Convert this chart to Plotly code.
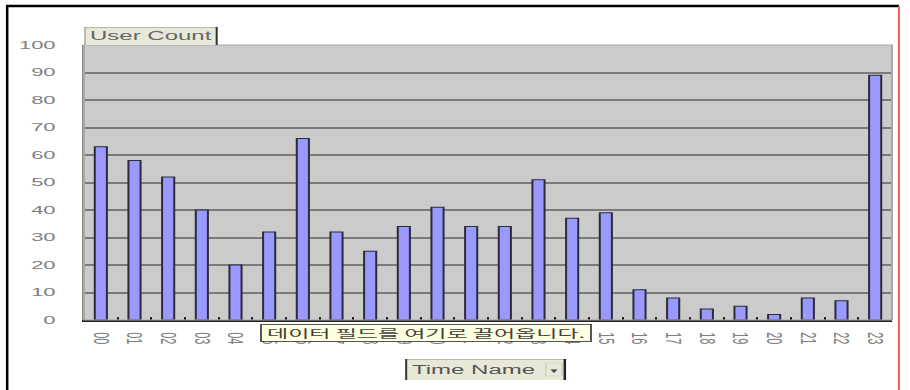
import plotly.graph_objects as go

# Hourly user counts (pivot chart: "User Count" by "Time Name")
hours = ["00", "01", "02", "03", "04", "05", "06", "07", "08", "09", "10", "11",
         "12", "13", "14", "15", "16", "17", "18", "19", "20", "21", "22", "23"]
user_count = [63, 58, 52, 40, 20, 32, 66, 32, 25, 34, 41, 34,
              34, 51, 37, 39, 11, 8, 4, 5, 2, 8, 7, 89]
y_ticks = [0, 10, 20, 30, 40, 50, 60, 70, 80, 90, 100]

# The chart is laid out at half width and shown stretched 2x horizontally,
# like a small Excel pivot chart that has been widened.
STRETCH = 2
W, H = 910 / STRETCH, 390
L, R, T, B = 83, 893, 45, 320          # plot area, in displayed pixels


def X(px):
    return (px - L) / (R - L)


def Y(py):
    return (B - py) / (B - T)


FONT = "Arial, Liberation Sans, sans-serif"

fig = go.Figure(go.Bar(
    x=hours, y=user_count,
    marker=dict(color="#9999FF", line=dict(color="#2b2b3a", width=1)),
    width=0.36,
))

shapes = [
    # plot-area border
    dict(type="rect", xref="paper", yref="paper", x0=0, x1=1, y0=0, y1=1,
         line=dict(color="#a8a8a8", width=1), layer="above"),
    # outer frame: black top/left, red right edge
    dict(type="line", xref="paper", yref="paper", x0=X(5), x1=X(900), y0=Y(6), y1=Y(6),
         line=dict(color="#000000", width=2.5)),
    dict(type="line", xref="paper", yref="paper", x0=X(6), x1=X(6), y0=Y(5), y1=Y(392),
         line=dict(color="#000000", width=1.25)),
    dict(type="line", xref="paper", yref="paper", x0=X(900), x1=X(900), y0=Y(6), y1=Y(392),
         line=dict(color="#ff5a5a", width=1)),
    # "User Count" field button
    dict(type="rect", xref="paper", yref="paper", x0=X(83), x1=X(217), y0=Y(45), y1=Y(27),
         fillcolor="#e8e8d8", line=dict(width=0)),
    dict(type="line", xref="paper", yref="paper", x0=X(83), x1=X(217), y0=Y(27.5), y1=Y(27.5),
         line=dict(color="#b8b8a8", width=1)),
    dict(type="line", xref="paper", yref="paper", x0=X(84), x1=X(84), y0=Y(27), y1=Y(45),
         line=dict(color="#9a9a90", width=0.6)),
    dict(type="line", xref="paper", yref="paper", x0=X(216), x1=X(216), y0=Y(27), y1=Y(45),
         line=dict(color="#333333", width=1)),
    # "Time Name" field button
    dict(type="rect", xref="paper", yref="paper", x0=X(405), x1=X(566), y0=Y(380), y1=Y(359),
         fillcolor="#e8e8d8", line=dict(width=0)),
    dict(type="line", xref="paper", yref="paper", x0=X(405), x1=X(566), y0=Y(359.5), y1=Y(359.5),
         line=dict(color="#b8b8a8", width=1)),
    dict(type="line", xref="paper", yref="paper", x0=X(406), x1=X(406), y0=Y(359), y1=Y(380),
         line=dict(color="#333333", width=1)),
    dict(type="line", xref="paper", yref="paper", x0=X(565), x1=X(565), y0=Y(359), y1=Y(380),
         line=dict(color="#222222", width=1.25)),
    dict(type="rect", xref="paper", yref="paper", x0=X(546), x1=X(562), y0=Y(376), y1=Y(363),
         fillcolor="#e8e8d8", line=dict(color="#c8c8b8", width=0.6)),
]

annotations = [
    dict(text="User Count", xref="paper", yref="paper", x=X(150), y=Y(36.5),
         showarrow=False, font=dict(family=FONT, size=12, color="#666666"),
         xanchor="center", yanchor="middle"),
    dict(text="Time Name", xref="paper", yref="paper", x=X(473), y=Y(369.5),
         showarrow=False, font=dict(family=FONT, size=12, color="#555555"),
         xanchor="center", yanchor="middle"),
    dict(text="▼", xref="paper", yref="paper", x=X(554), y=Y(370.5),
         showarrow=False, font=dict(family=FONT, size=6, color="#444444"),
         xanchor="center", yanchor="middle"),
    # pivot-table drop hint tooltip
    dict(text="데이터 필드를 여기로 끌어옵니다.", xref="paper", yref="paper",
         x=X(426), y=Y(333), showarrow=False,
         font=dict(family="Noto Sans CJK KR", size=11.5, color="#404040"),
         bgcolor="#ffffe1", bordercolor="#555555", borderwidth=1, borderpad=1,
         width=162, height=14, xanchor="center", yanchor="middle"),
]

fig.update_layout(
    width=W, height=H,
    margin=dict(l=L / STRETCH, r=(910 - R) / STRETCH, t=T, b=H - B, pad=0),
    paper_bgcolor="#ffffff",
    plot_bgcolor="#cbcbcb",
    showlegend=False,
    bargap=0.64,
    shapes=shapes,
    annotations=annotations,
    xaxis=dict(
        type="category", range=[-0.5, 23.5],
        tickangle=90, tickfont=dict(family=FONT, size=11, color="#808080"),
        ticks="inside", ticklen=3, tickwidth=1, tickcolor="#222222",
        tickson="boundaries", ticklabelstandoff=8,
        showline=True, linecolor="#222222", linewidth=2,
        showgrid=False, zeroline=False, fixedrange=True,
    ),
    yaxis=dict(
        range=[0, 100], tickvals=y_ticks,
        tickfont=dict(family=FONT, size=11, color="#808080"),
        showgrid=True, gridcolor="#7a7a7a", gridwidth=1.5,
        showline=True, linecolor="#8a8a8a", linewidth=1,
        ticks="", ticklabelstandoff=11, zeroline=False, fixedrange=True,
    ),
)

# Widen the rendered chart horizontally.
stretch_js = (
    "var gd = document.getElementById('{plot_id}');"
    "gd.style.transformOrigin = '0 0';"
    "gd.style.transform = 'scaleX(%d)';" % STRETCH
)

fig.write_html("out.html", post_script=stretch_js)
